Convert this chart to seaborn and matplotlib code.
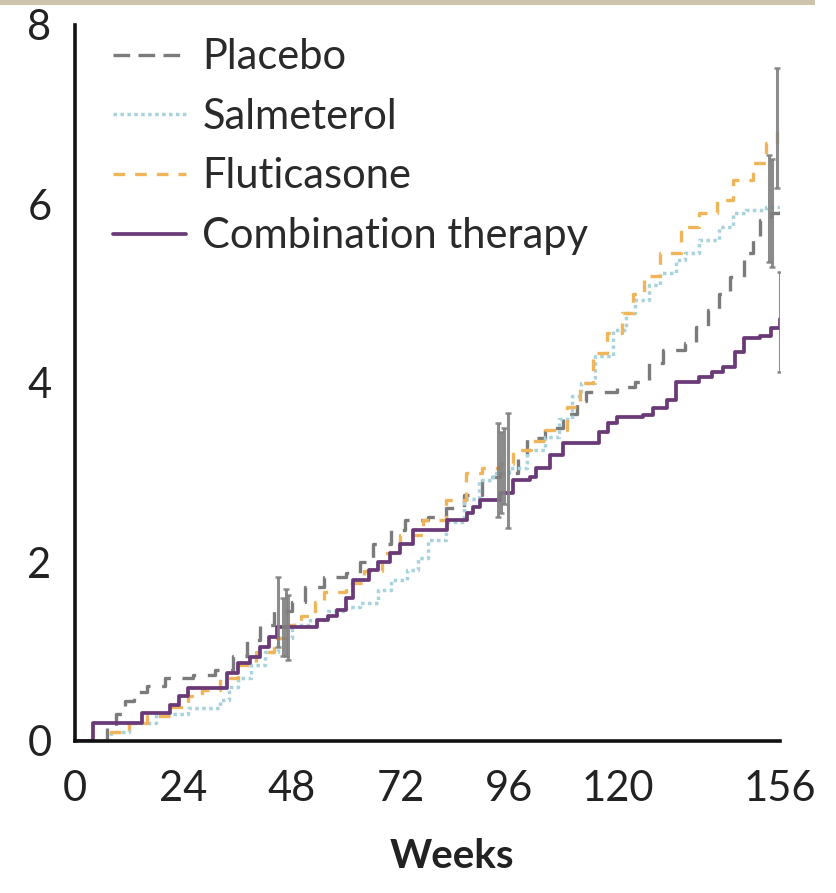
import matplotlib
matplotlib.use("Agg")
import matplotlib.pyplot as plt
from matplotlib.patches import Rectangle
from matplotlib.lines import Line2D
import seaborn as sns
import pandas as pd

# Cumulative step curves (weeks -> value)
placebo_weeks = [0, 7, 9, 11, 13, 16, 20, 26, 31, 35, 38, 41, 44, 48, 51, 55, 60, 63, 66, 70, 73, 78, 82,
                 86, 90, 94, 98, 100, 104, 108, 111, 113, 120, 124, 127, 130, 135, 137.5, 140, 142.5, 145,
                 148, 150, 151.5, 154, 156]
placebo_vals = [0, 0.15, 0.3, 0.45, 0.55, 0.62, 0.7, 0.74, 0.79, 0.95, 1.13, 1.3, 1.45, 1.55, 1.72, 1.83,
                1.88, 2.0, 2.2, 2.36, 2.47, 2.5, 2.6, 2.75, 2.95, 3.0, 3.2, 3.38, 3.5, 3.65, 3.8, 3.9, 3.96,
                4.01, 4.22, 4.37, 4.45, 4.63, 4.82, 5.0, 5.18, 5.45, 5.6, 5.82, 5.9, 5.95]

salmeterol_weeks = [0, 8, 12, 18, 25, 32, 34, 36, 39, 42, 45, 48, 52, 56, 60, 63, 67, 70, 73.5, 76, 78, 82,
                    86, 89.5, 92.5, 96, 100, 104, 107, 110, 112, 115, 119, 122, 124, 127, 129.5, 133, 135,
                    138, 142.5, 145.5, 148.5, 153, 156]
salmeterol_vals = [0, 0.1, 0.2, 0.3, 0.37, 0.46, 0.6, 0.7, 0.85, 1.0, 1.15, 1.3, 1.35, 1.45, 1.5, 1.54,
                   1.69, 1.8, 1.91, 2.05, 2.25, 2.45, 2.7, 2.92, 2.99, 3.05, 3.25, 3.4, 3.6, 3.85, 4.0, 4.3,
                   4.59, 4.78, 4.93, 5.1, 5.23, 5.37, 5.45, 5.6, 5.74, 5.9, 5.93, 5.97, 6.0]

fluticasone_weeks = [0, 8, 12, 16, 21, 25, 28, 32, 36, 40, 44, 47, 50, 53, 55, 60, 64, 68, 72, 77, 82, 86.5,
                     90, 94, 97, 101, 104, 108.8, 111.7, 114.7, 117.7, 121, 123.5, 126, 129.5, 134, 138, 142,
                     145.6, 150, 153, 155.3, 156]
fluticasone_vals = [0, 0.1, 0.2, 0.28, 0.38, 0.5, 0.57, 0.7, 0.85, 1.0, 1.15, 1.3, 1.4, 1.55, 1.66, 1.76,
                    1.9, 2.1, 2.3, 2.47, 2.69, 2.99, 3.05, 3.1, 3.25, 3.35, 3.47, 3.73, 4.0, 4.33, 4.56, 4.78,
                    5.0, 5.19, 5.45, 5.74, 5.9, 6.04, 6.27, 6.46, 6.68, 6.85, 6.85]

combination_weeks = [0, 4, 14.8, 21, 23, 25, 33.6, 36, 38.7, 41, 43, 44.6, 53.5, 56, 58, 60, 61.5, 65, 67,
                     69.7, 72, 74.8, 82.3, 86.7, 88, 89.6, 94, 97, 100.7, 102, 105, 108, 116, 118, 120,
                     125.7, 128, 131, 133, 138, 141, 143.4, 146, 148, 151.6, 154, 156]
combination_vals = [0, 0.2, 0.31, 0.4, 0.5, 0.59, 0.76, 0.87, 0.94, 1.05, 1.16, 1.27, 1.35, 1.4, 1.46, 1.6,
                    1.8, 1.91, 2.0, 2.1, 2.2, 2.36, 2.47, 2.55, 2.62, 2.69, 2.77, 2.92, 2.95, 3.05, 3.2, 3.33,
                    3.45, 3.55, 3.62, 3.64, 3.72, 3.81, 4.01, 4.07, 4.12, 4.18, 4.35, 4.5, 4.52, 4.62, 4.72]

# Confidence intervals (low, high) drawn at three visits, slightly offset per group
ci_weeks_placebo = [45.0, 93.5, 153.5]
ci_low_placebo = [1.05, 2.50, 5.35]
ci_high_placebo = [1.83, 3.55, 6.55]

ci_weeks_salmeterol = [46.0, 94.3, 154.3]
ci_low_salmeterol = [0.95, 2.55, 5.30]
ci_high_salmeterol = [1.60, 3.45, 6.50]

ci_weeks_fluticasone = [46.6, 95.0, 155.3]
ci_low_fluticasone = [0.95, 2.65, 6.18]
ci_high_fluticasone = [1.70, 3.50, 7.52]

ci_weeks_combination = [47.1, 95.8, 156.0]
ci_low_combination = [0.90, 2.38, 4.12]
ci_high_combination = [1.63, 3.66, 5.24]

labels = ["Placebo", "Salmeterol", "Fluticasone", "Combination therapy"]
x_ticks = [0, 24, 48, 72, 96, 120, 156]
y_ticks = [0, 2, 4, 6, 8]

sns.set_theme(style="white")
plt.rcParams["font.family"] = ["Lato", "DejaVu Sans"]

fig = plt.figure(figsize=(8.36, 8.93), dpi=100)
ax = fig.add_axes([75 / 836, (893 - 741) / 893, (780 - 75) / 836, (741 - 25) / 893])

styles = [
    dict(color="#7b7b7b", linestyle=(0, (5, 3.5)), linewidth=2.4),
    dict(color="#a9d3dc", linestyle=(0, (1, 1)), linewidth=2.5),
    dict(color="#f0b55a", linestyle=(0, (3.5, 3)), linewidth=2.4),
    dict(color="#6a3a78", linestyle="-", linewidth=2.7),
]

series = [
    (placebo_weeks, placebo_vals),
    (salmeterol_weeks, salmeterol_vals),
    (fluticasone_weeks, fluticasone_vals),
    (combination_weeks, combination_vals),
]
for (wk, vals), st in zip(series, styles):
    df = pd.DataFrame({"week": wk, "value": vals})
    sns.lineplot(data=df, x="week", y="value", ax=ax, estimator=None, sort=False,
                 drawstyle="steps-post", legend=False, **st)

ci_sets = [
    (ci_weeks_placebo, ci_low_placebo, ci_high_placebo),
    (ci_weeks_salmeterol, ci_low_salmeterol, ci_high_salmeterol),
    (ci_weeks_fluticasone, ci_low_fluticasone, ci_high_fluticasone),
    (ci_weeks_combination, ci_low_combination, ci_high_combination),
]
for wk, lo, hi in ci_sets:
    mid = [(a + b) / 2 for a, b in zip(lo, hi)]
    err = [[m - a for m, a in zip(mid, lo)], [b - m for m, b in zip(mid, hi)]]
    ax.errorbar(wk, mid, yerr=err, fmt="none", ecolor="#808080", elinewidth=2.2,
                capsize=2.5, capthick=1.8, alpha=0.9, zorder=5)

ax.set_xlim(0, 156)
ax.set_ylim(0, 8)
ax.set_xticks(x_ticks)
ax.set_yticks(y_ticks)
ax.set_xlabel("Weeks", fontsize=29, fontweight="bold", color="#222222")
ax.xaxis.set_label_coords(0.535, -0.135)
ax.set_ylabel("")

for side in ["top", "right"]:
    ax.spines[side].set_visible(False)
for side in ["left", "bottom"]:
    ax.spines[side].set_linewidth(2.6)
    ax.spines[side].set_color("#111111")
ax.tick_params(axis="both", which="major", direction="out", length=13, width=2.4,
               colors="#111111", labelsize=30, labelcolor="#222222")
ax.tick_params(axis="y", pad=4)
ax.tick_params(axis="x", pad=8)
ax.set_facecolor("white")

handles = [Line2D([0], [0], **st) for st in styles]
handles[0].set_linestyle((0, (5, 2.5)))
leg = ax.legend(handles, labels, loc="upper left", bbox_to_anchor=(0.03, 1.005),
                frameon=False, fontsize=30, handlelength=1.75, handletextpad=0.4,
                labelspacing=0.52, borderaxespad=0)
for t in leg.get_texts():
    t.set_color("#2a2a2a")

# thin beige strip along the top edge
fig.patches.append(Rectangle((0, 1 - 5 / 893), 815 / 836, 5 / 893, transform=fig.transFigure,
                             facecolor="#cdc4ab", edgecolor="none", zorder=0))

fig.savefig("out.png", dpi=100, facecolor="white")
